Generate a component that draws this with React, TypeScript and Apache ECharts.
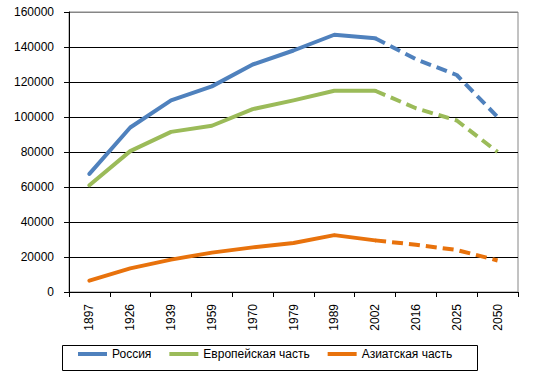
import React, { useEffect, useRef } from "react";
import * as echarts from "echarts";

const years = ["1897", "1926", "1939", "1959", "1970", "1979", "1989", "2002", "2016", "2025", "2050"];
const russia = [67500, 94000, 109500, 117500, 130000, 138000, 147000, 145000, 133000, 124000, 100000];
const europe = [61000, 80500, 91500, 95000, 104500, 109500, 115000, 115000, 105000, 98000, 80000];
const asia = [6500, 13500, 18500, 22500, 25500, 28000, 32500, 29500, 27000, 24000, 18000];
const names = ["Россия", "Европейская часть", "Азиатская часть"];
const colors = ["#4F81BD", "#9BBB59", "#E8720C"];
const lastActual = 7; // index of 2002

const FONT = "'Liberation Sans', Arial, sans-serif";

function split(values: number[]) {
  const solid = values.map((v, i) => (i <= lastActual ? v : null));
  const dashed = values.map((v, i) => (i >= lastActual ? v : null));
  return { solid, dashed };
}

export default function App() {
  const ref = useRef<HTMLDivElement>(null);
  useEffect(() => {
    if (!ref.current) return;
    const chart = echarts.init(ref.current, undefined, { renderer: "svg" });
    const all = [russia, europe, asia];
    const series: any[] = [];
    all.forEach((vals, k) => {
      const { solid, dashed } = split(vals);
      series.push({
        name: names[k],
        type: "line",
        data: solid,
        symbol: "none",
        z: 3,
        lineStyle: { color: colors[k], width: 4, cap: "round", join: "round" },
        itemStyle: { color: colors[k] },
      });
      series.push({
        name: names[k] + " (прогноз)",
        type: "line",
        data: dashed,
        symbol: "none",
        z: 3,
        lineStyle: { color: colors[k], width: 4, type: [11, 6], cap: "butt", join: "round" },
        itemStyle: { color: colors[k] },
      });
    });
    const splitColors = Array.from({ length: 9 }, (_, i) => (i === 8 ? "#868686" : "#000000"));
    chart.setOption({
      animation: false,
      backgroundColor: "#ffffff",
      textStyle: { fontFamily: FONT },
      grid: {
        left: 69,
        right: 17,
        top: 12,
        bottom: 86,
        show: true,
        borderColor: "#868686",
        borderWidth: 1,
      },
      xAxis: {
        type: "category",
        data: years,
        boundaryGap: true,
        axisLine: { lineStyle: { color: "#000", width: 1 } },
        axisTick: { show: true, length: 5, alignWithLabel: false, lineStyle: { color: "#000" } },
        axisLabel: { rotate: 90, margin: 12, color: "#000", fontSize: 12, fontFamily: FONT, interval: 0 },
        splitLine: { show: false },
      },
      yAxis: {
        type: "value",
        min: 0,
        max: 160000,
        interval: 20000,
        axisLine: { show: true, lineStyle: { color: "#000", width: 1 } },
        axisTick: { show: true, length: 5, lineStyle: { color: "#000" } },
        axisLabel: {
          margin: 15,
          color: "#000",
          fontSize: 12,
          fontFamily: FONT,
          formatter: (v: number) => String(v),
        },
        splitLine: { show: true, lineStyle: { color: splitColors, width: 1 } },
      },
      legend: {
        data: names,
        left: 78,
        top: 348,
        padding: 0,
        icon: "rect",
        itemWidth: 29,
        itemHeight: 4,
        itemGap: 18,
        textStyle: { color: "#000", fontSize: 12, fontFamily: FONT },
      },
      graphic: [
        {
          type: "rect",
          left: 60,
          top: 343,
          shape: { width: 415, height: 25 },
          style: { fill: "none", stroke: "#000", lineWidth: 1 },
          silent: true,
        },
      ],
      series,
    });
    return () => chart.dispose();
  }, []);
  return <div ref={ref} style={{ width: 535, height: 378, position: "absolute", left: 0, top: 0 }} />;
}
